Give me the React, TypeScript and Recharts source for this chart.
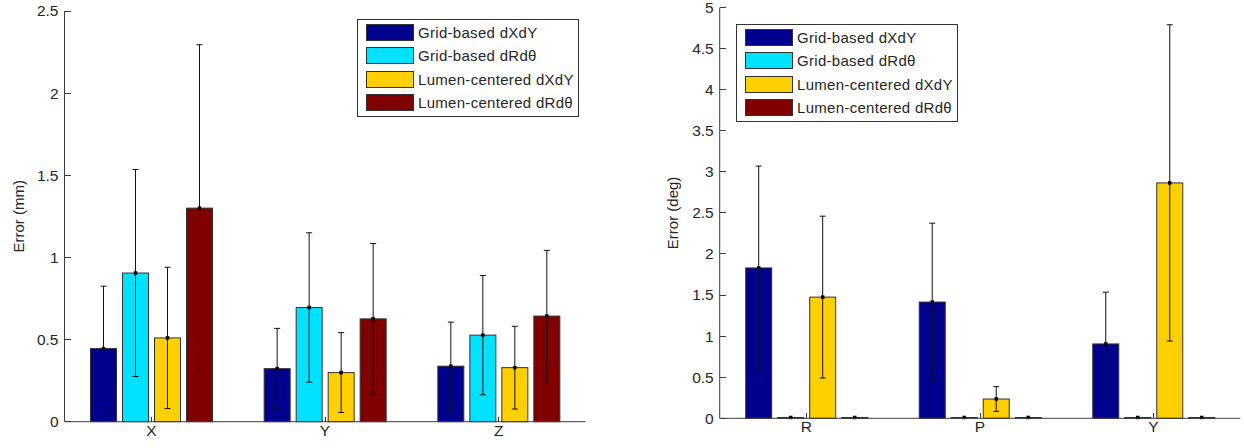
import { BarChart, Bar, XAxis, YAxis, ErrorBar, Label } from "recharts"

const FONT = "Arial, Helvetica, sans-serif"
const AXIS = "#3c3c3c"
const TEXT = "#262626"

const seriesNames = ["Grid-based dXdY", "Grid-based dRdθ", "Lumen-centered dXdY", "Lumen-centered dRdθ"]
const seriesColors = ["#00008c", "#00e0ff", "#ffd000", "#800000"]

// position error, mm
const posCategories = ["X", "Y", "Z"]
const posGridXY = [0.445, 0.323, 0.338]
const posGridRT = [0.905, 0.695, 0.527]
const posLumenXY = [0.51, 0.299, 0.329]
const posLumenRT = [1.3, 0.626, 0.643]
const posGridXYErr = [0.38, 0.245, 0.268]
const posGridRTErr = [0.63, 0.455, 0.363]
const posLumenXYErr = [0.43, 0.243, 0.252]
const posLumenRTErr = [0.995, 0.459, 0.4]
const posTicks = [0, 0.5, 1, 1.5, 2, 2.5]

// orientation error, deg
const rotCategories = ["R", "P", "Y"]
const rotGridXY = [1.83, 1.415, 0.905]
const rotGridRT = [0.01, 0.01, 0.01]
const rotLumenXY = [1.475, 0.235, 2.865]
const rotLumenRT = [0.01, 0.01, 0.01]
const rotGridXYErr = [1.24, 0.96, 0.63]
const rotGridRTErr = [0, 0, 0]
const rotLumenXYErr = [0.985, 0.15, 1.925]
const rotLumenRTErr = [0, 0, 0]
const rotTicks = [0, 0.5, 1, 1.5, 2, 2.5, 3, 3.5, 4, 4.5, 5]

const buildRows = (cats: string[], means: number[][], errs: number[][]) =>
  cats.map((name, i) => {
    const row: any = { name }
    means.forEach((m, k) => {
      row[`s${k}`] = m[i]
      row[`e${k}`] = errs[k][i]
    })
    return row
  })

const posRows = buildRows(
  posCategories,
  [posGridXY, posGridRT, posLumenXY, posLumenRT],
  [posGridXYErr, posGridRTErr, posLumenXYErr, posLumenRTErr]
)
const rotRows = buildRows(
  rotCategories,
  [rotGridXY, rotGridRT, rotLumenXY, rotLumenRT],
  [rotGridXYErr, rotGridRTErr, rotLumenXYErr, rotLumenRTErr]
)

const TM = 6 // tick margin
const TL = 6 // inward tick length

const LeftTick = ({ x, y, payload }: any) => (
  <g>
    <line x1={x + TM} x2={x + TM + TL} y1={y} y2={y} stroke={AXIS} shapeRendering="crispEdges" />
    <text x={x} y={y} dy="0.35em" textAnchor="end" fontSize={15.5} fill={TEXT} fontFamily={FONT}>
      {payload.value}
    </text>
  </g>
)

const RightTick = ({ x, y }: any) => (
  <line x1={x - TM} x2={x - TM - TL} y1={y} y2={y} stroke={AXIS} shapeRendering="crispEdges" />
)

const BottomTick = ({ x, y, payload }: any) => (
  <g>
    <line x1={x} x2={x} y1={y - TM} y2={y - TM - 5} stroke={AXIS} shapeRendering="crispEdges" />
    <text x={x} y={y - TM + 14} textAnchor="middle" fontSize={15.5} fill={TEXT} fontFamily={FONT}>
      {payload.value}
    </text>
  </g>
)

const TopTick = ({ x, y }: any) => (
  <line x1={x} x2={x} y1={y + TM} y2={y + TM + 5} stroke={AXIS} shapeRendering="crispEdges" />
)

const BarShape = (props: any) => {
  const { x, y, width, height, fill } = props
  return (
    <g>
      <rect x={x} y={y} width={width} height={Math.max(height, 0)} fill={fill} stroke="#333" strokeWidth={1} />
      <rect x={x + width / 2 - 1.75} y={y - 1.75} width={3.5} height={3.5} fill="#000" />
    </g>
  )
}

type PanelProps = {
  left: number
  rows: any[]
  ticks: number[]
  yLabel: string
  labelX: number
  yAxisWidth: number
  xAxisHeight: number
  margin: { top: number; right: number; bottom: number; left: number }
  legendPos: { left: number; top: number }
}

function Panel({ left, rows, ticks, yLabel, labelX, yAxisWidth, xAxisHeight, margin, legendPos }: PanelProps) {
  const yMax = ticks[ticks.length - 1]
  return (
    <div style={{ position: "absolute", left, top: 0, width: 622, height: 448 }}>
      <BarChart width={622} height={448} data={rows} margin={margin} barSize={26} barGap={6}>
        <XAxis
          dataKey="name"
          height={xAxisHeight}
          stroke={AXIS}
          tickLine={false}
          tickSize={0}
          tickMargin={TM}
          tick={<BottomTick />}
          interval={0}
        />
        <XAxis
          xAxisId="top"
          dataKey="name"
          orientation="top"
          height={0}
          stroke={AXIS}
          tickLine={false}
          tickSize={0}
          tickMargin={TM}
          tick={<TopTick />}
          interval={0}
        />
        <YAxis
          type="number"
          domain={[0, yMax]}
          ticks={ticks}
          width={yAxisWidth}
          stroke={AXIS}
          tickLine={false}
          tickSize={0}
          tickMargin={TM}
          tick={<LeftTick />}
          interval={0}
        >
          <Label
            content={(p: any) => {
              const vb = p.viewBox || {}
              const cx = (vb.x || 0) + labelX
              const cy = (vb.y || 0) + (vb.height || 0) / 2
              return (
                <text
                  x={cx}
                  y={cy}
                  transform={`rotate(-90 ${cx} ${cy})`}
                  textAnchor="middle"
                  dy="0.35em"
                  fontSize={15}
                  fill={TEXT}
                  fontFamily={FONT}
                >
                  {yLabel}
                </text>
              )
            }}
          />
        </YAxis>
        <YAxis
          yAxisId="r"
          orientation="right"
          type="number"
          domain={[0, yMax]}
          ticks={ticks}
          width={0}
          stroke={AXIS}
          tickLine={false}
          tickSize={0}
          tickMargin={TM}
          tick={<RightTick />}
          interval={0}
        />
        {seriesNames.map((name, k) => (
          <Bar key={name} name={name} dataKey={`s${k}`} fill={seriesColors[k]} shape={<BarShape />} isAnimationActive={false}>
            <ErrorBar dataKey={`e${k}`} width={3} stroke="#111" strokeWidth={1} direction="y" />
          </Bar>
        ))}
      </BarChart>
      <div
        style={{
          position: "absolute",
          left: legendPos.left,
          top: legendPos.top,
          width: 222,
          height: 98,
          border: "1px solid #333",
          background: "#fff",
          boxSizing: "border-box",
          fontFamily: FONT,
          fontSize: 15,
          color: TEXT,
        }}
      >
        {seriesNames.map((name, k) => (
          <div key={name} style={{ position: "absolute", left: 8, top: 4 + k * 23.3, height: 17, display: "flex", alignItems: "center" }}>
            <div style={{ width: 46, height: 15, background: seriesColors[k], border: "1px solid #333" }} />
            <span style={{ marginLeft: 4, whiteSpace: "nowrap", lineHeight: "17px", fontSize: 15, letterSpacing: 0.3 }}>
              {name}
            </span>
          </div>
        ))}
      </div>
    </div>
  )
}

export default function App() {
  return (
    <div style={{ position: "absolute", left: 0, top: 0, width: 1244, height: 448, background: "#fff" }}>
      <Panel
        left={0}
        rows={posRows}
        ticks={posTicks}
        yLabel="Error (mm)"
        labelX={19}
        yAxisWidth={64.5}
        xAxisHeight={26.3}
        margin={{ top: 11, right: 36.5, bottom: 0, left: 0 }}
        legendPos={{ left: 357, top: 19 }}
      />
      <Panel
        left={622}
        rows={rotRows}
        ticks={rotTicks}
        yLabel="Error (deg)"
        labelX={51}
        yAxisWidth={97.7}
        xAxisHeight={29.7}
        margin={{ top: 7.5, right: 3.7, bottom: 0, left: 0 }}
        legendPos={{ left: 114, top: 24 }}
      />
    </div>
  )
}
